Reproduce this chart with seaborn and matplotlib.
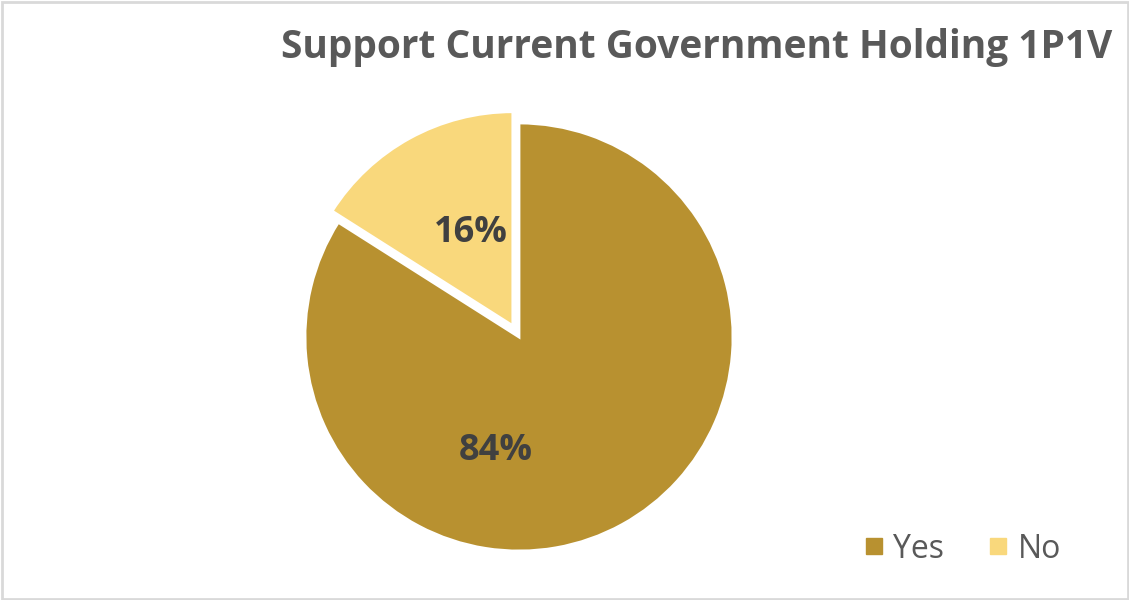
import matplotlib
matplotlib.use("Agg")
import matplotlib.pyplot as plt
from matplotlib.lines import Line2D
from matplotlib.patches import Rectangle
import seaborn as sns

# data
answers = ["Yes", "No"]
shares = [84, 16]
colors = ["#B89130", "#F9D87C"]

sns.set_theme(style="white")
plt.rcParams['font.family'] = ['Open Sans', 'DejaVu Sans']

fig = plt.figure(figsize=(11.29, 6), dpi=100)

# light grey frame round the chart
fig.patches.append(Rectangle((1.5 / 1129, 1.5 / 600), 1126 / 1129, 597 / 600,
                             transform=fig.transFigure, fill=False,
                             edgecolor="#D9D9D9", linewidth=2))

# pie: centre (519, 337) px, radius 214 px
r = 214
ax = fig.add_axes([(519 - r) / 1129, (600 - 337 - r) / 600, 2 * r / 1129, 2 * r / 600])
wedges, texts, autotexts = ax.pie(shares, colors=colors, startangle=90, counterclock=False,
                                  explode=[0, 0.06], autopct='%d%%',
                                  wedgeprops=dict(linewidth=2, edgecolor='white'),
                                  textprops=dict(fontsize=26, fontweight='bold', color='#404040'))
ax.set_xlim(-1, 1)
ax.set_ylim(-1, 1)
ax.set_aspect('equal')

# place labels roughly where the original has them
autotexts[0].set_position((-0.107, -0.533))
autotexts[1].set_position((-0.224, 0.485))

fig.text(0.985, 1 - 58 / 600, "Support Current Government Holding 1P1V", ha='right',
         va='baseline', fontsize=28, fontweight='bold', color='#595959')

handles = [Line2D([], [], marker='s', linestyle='', markersize=11, color=c) for c in colors]
fig.legend(handles, answers, loc='center left', bbox_to_anchor=(864 / 1129, 1 - 549 / 600),
           ncol=2, frameon=False, fontsize=23, labelcolor='#595959', handletextpad=0.31,
           handlelength=0.6, columnspacing=1.4, borderpad=0, borderaxespad=0)

fig.savefig("out.png", dpi=100)
